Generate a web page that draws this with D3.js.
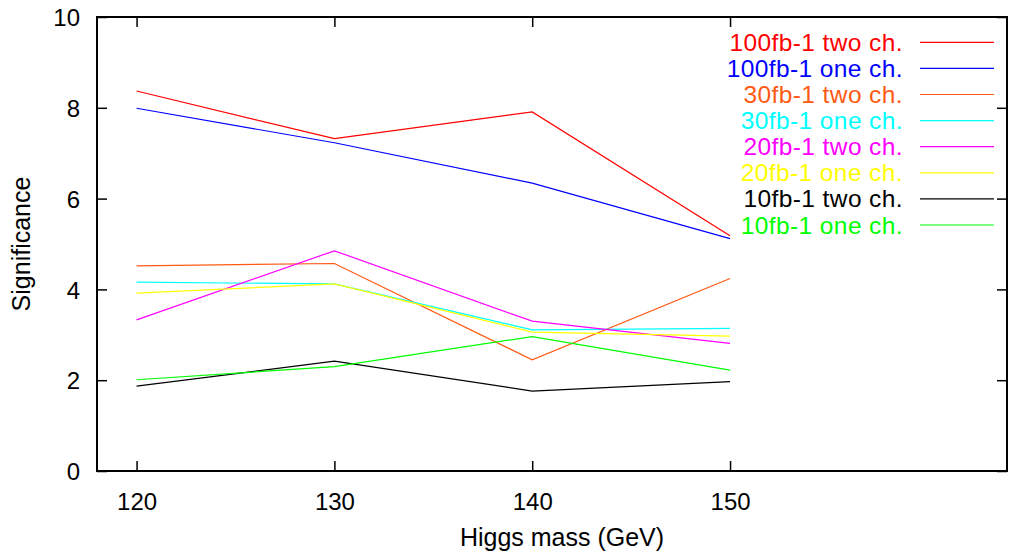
<!DOCTYPE html>
<html>
<head>
<meta charset="utf-8">
<script src="https://cdn.jsdelivr.net/npm/d3@7"></script>
<style>
  html, body { margin: 0; padding: 0; background: #fff; }
  svg { display: block; }
  text { font-family: "Liberation Sans", Arial, Helvetica, sans-serif; }
</style>
</head>
<body>
<svg id="chart" width="1019" height="556"></svg>
<script>
// ---- data ----
const masses = [120, 130, 140, 150];
const xTicks = [120, 130, 140, 150];
const yTicks = [0, 2, 4, 6, 8, 10];
const seriesNames = [
  "100fb-1 two ch.", "100fb-1 one ch.",
  "30fb-1 two ch.", "30fb-1 one ch.",
  "20fb-1 two ch.", "20fb-1 one ch.",
  "10fb-1 two ch.", "10fb-1 one ch."
];
const seriesColors = ["#ff0000", "#0000ff", "#ff5a14", "#00ffff", "#ff00ff", "#ffff00", "#000000", "#00ff00"];
const s100two = [8.37, 7.32, 7.91, 5.18];
const s100one = [7.99, 7.23, 6.34, 5.12];
const s30two  = [4.52, 4.57, 2.45, 4.24];
const s30one  = [4.16, 4.12, 3.11, 3.14];
const s20two  = [3.33, 4.85, 3.30, 2.81];
const s20one  = [3.92, 4.12, 3.06, 2.97];
const s10two  = [1.87, 2.42, 1.76, 1.97];
const s10one  = [2.01, 2.30, 2.96, 2.22];
const seriesValues = [s100two, s100one, s30two, s30one, s20two, s20one, s10two, s10one];

// ---- layout ----
const L = 97, R = 1007, T = 17, B = 471;
const svg = d3.select("#chart");
const x = d3.scaleLinear().domain([118, 164]).range([L, R]);
const y = d3.scaleLinear().domain([0, 10]).range([B, T]);

// series lines
const line = d3.line().x((d, i) => x(masses[i])).y(d => y(d));
seriesValues.forEach((vals, k) => {
  svg.append("path")
    .attr("d", line(vals))
    .attr("fill", "none")
    .attr("stroke", seriesColors[k])
    .attr("stroke-width", 1.2);
});

// axes with inward ticks
const tickLen = 10;
const xBottom = svg.append("g").attr("transform", `translate(0,${B})`)
  .call(d3.axisBottom(x).tickValues(xTicks).tickSizeInner(-tickLen).tickSizeOuter(0).tickPadding(tickLen + 12));
const xTop = svg.append("g").attr("transform", `translate(0,${T})`)
  .call(d3.axisTop(x).tickValues(xTicks).tickSizeInner(-tickLen).tickSizeOuter(0).tickFormat(""));
const yLeft = svg.append("g").attr("transform", `translate(${L},0)`)
  .call(d3.axisLeft(y).tickValues(yTicks).tickSizeInner(-tickLen).tickSizeOuter(0).tickPadding(tickLen + 7));
const yRight = svg.append("g").attr("transform", `translate(${R},0)`)
  .call(d3.axisRight(y).tickValues(yTicks).tickSizeInner(-tickLen).tickSizeOuter(0).tickFormat(""));

[xBottom, xTop, yLeft, yRight].forEach(g => {
  g.select(".domain").remove();
  g.selectAll(".tick line").attr("stroke", "#000").attr("stroke-width", 1.5);
  g.selectAll(".tick text").attr("fill", "#000").style("font-size", "24px");
});
xBottom.selectAll(".tick text").attr("dy", "0.71em");
yLeft.selectAll(".tick text").attr("dy", "0.36em");

// frame
svg.append("rect")
  .attr("x", L).attr("y", T).attr("width", R - L).attr("height", B - T)
  .attr("fill", "none").attr("stroke", "#000").attr("stroke-width", 2);

// axis titles
svg.append("text")
  .attr("x", 562).attr("y", 546)
  .attr("text-anchor", "middle")
  .style("font-size", "25px")
  .text("Higgs mass (GeV)");
svg.append("text")
  .attr("transform", `translate(30,${(T + B) / 2}) rotate(-90)`)
  .attr("text-anchor", "middle")
  .style("font-size", "25px")
  .text("Significance");

// legend
const legY0 = 42.3, legDy = 26.1;
seriesNames.forEach((name, k) => {
  const yy = legY0 + k * legDy;
  svg.append("text")
    .attr("x", 903).attr("y", yy + 8.5)
    .attr("text-anchor", "end")
    .attr("fill", seriesColors[k])
    .style("font-size", "24.5px")
    .style("letter-spacing", "0.4px")
    .text(name);
  svg.append("line")
    .attr("x1", 920).attr("x2", 994)
    .attr("y1", yy).attr("y2", yy)
    .attr("stroke", seriesColors[k])
    .attr("stroke-width", 1.2);
});
</script>
</body>
</html>
